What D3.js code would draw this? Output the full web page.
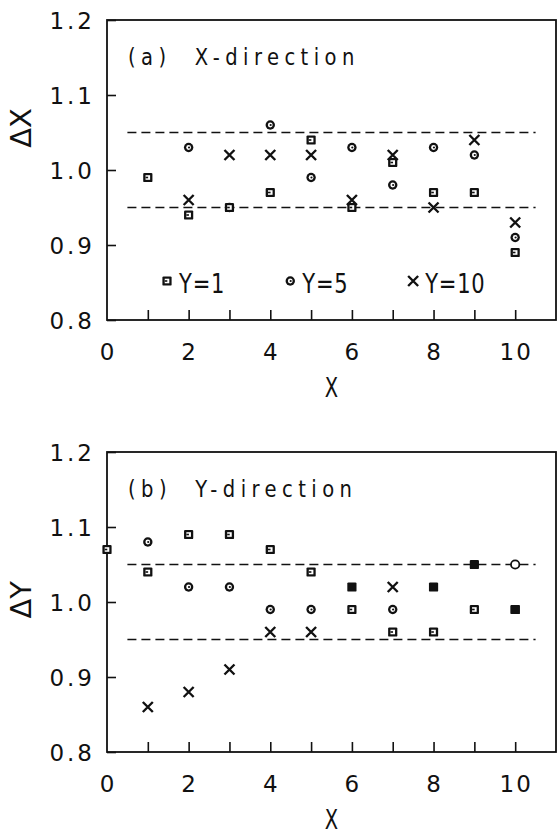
<!DOCTYPE html>
<html>
<head>
<meta charset="utf-8">
<script src="https://cdn.jsdelivr.net/npm/d3@7"></script>
<style>
  body { margin: 0; background: #fff; }
  svg text { font-family: "DejaVu Sans", sans-serif; fill: #111; }
</style>
</head>
<body>
<div id="chart"></div>
<script>
// x positions
var xs = [0, 1, 2, 3, 4, 5, 6, 7, 8, 9, 10];

// panel (a) X-direction
var a_y1  = [null, 0.99, 0.94, 0.95, 0.97, 1.04, 0.95, 1.01, 0.97, 0.97, 0.89];
var a_y5  = [null, null, 1.03, 0.95, 1.06, 0.99, 1.03, 0.98, 1.03, 1.02, 0.91];
var a_y10 = [null, null, 0.96, 1.02, 1.02, 1.02, 0.96, 1.02, 0.95, 1.04, 0.93];

// panel (b) Y-direction
var b_y1  = [1.07, 1.04, 1.09, 1.09, 1.07, 1.04, 0.99, 0.96, 0.96, 0.99, 0.99];
var b_y5  = [null, 1.08, 1.02, 1.02, 0.99, 0.99, null, 0.99, null, null, null];
var b_y10 = [null, 0.86, 0.88, 0.91, 0.96, 0.96, null, 1.02, null, null, null];
var b_filled = [null, null, null, null, null, null, 1.02, null, 1.02, 1.05, 0.99];
var b_open   = [null, null, null, null, null, null, null, null, null, null, 1.05];

var yTicks = [0.8, 0.9, 1.0, 1.1, 1.2];
var xTicks = [1, 2, 3, 4, 5, 6, 7, 8, 9, 10];
var xLabels = [0, 2, 4, 6, 8, 10];
var bandLines = [0.95, 1.05];

var W = 558, H = 839;
var left = 107, pw = 449, ph = 300;

var svg = d3.select("#chart").append("svg")
    .attr("width", W).attr("height", H);

var x = d3.scaleLinear().domain([0, 11]).range([0, pw]);
var y = d3.scaleLinear().domain([0.8, 1.2]).range([ph, 0]);

function pts(vals) {
    return xs.map(function(d, i) { return { x: d, v: vals[i] }; })
             .filter(function(d) { return d.v != null; });
}

// narrow text: placed at (tx,ty) and squeezed horizontally
function narrowText(g, tx, ty, sx, txt) {
    return g.append("g").attr("transform", "translate(" + tx + "," + ty + ") scale(" + sx + ",1)")
        .append("text").text(txt);
}

// markers
function place(d) { return "translate(" + x(d.x) + "," + y(d.v) + ")"; }

function drawSquare(g, data, filled) {
    var s = g.selectAll(null).data(data).enter().append("g").attr("transform", place);
    s.append("rect")
        .attr("x", -4.6).attr("y", -4.6).attr("width", 9.2).attr("height", 9.2).attr("rx", 1.2)
        .attr("fill", "#111");
    if (!filled) {
        s.append("rect").attr("x", -2.3).attr("y", -2.3).attr("width", 4.6).attr("height", 4.6)
            .attr("fill", "#fff");
        s.append("rect").attr("x", -2.3).attr("y", -0.8).attr("width", 2.6).attr("height", 1.6)
            .attr("fill", "#111");
    }
}
function drawCircle(g, data, dot) {
    var s = g.selectAll(null).data(data).enter().append("g").attr("transform", place);
    if (dot) {
        s.append("circle").attr("r", 4.7).attr("fill", "#111");
        s.append("circle").attr("r", 2.4).attr("fill", "#fff");
        s.append("circle").attr("r", 1.1).attr("cx", 0.4).attr("fill", "#111");
    } else {
        s.append("circle").attr("r", 4.2)
            .attr("fill", "#fff").attr("stroke", "#111").attr("stroke-width", 1.8);
    }
}
function drawCross(g, data) {
    g.selectAll(null).data(data).enter().append("path")
        .attr("transform", place)
        .attr("d", "M-5,-5L5,5M-5,5L5,-5")
        .attr("stroke", "#111").attr("stroke-width", 2.4).attr("fill", "none");
}

function panel(top, title, ylab, ylabAt) {
    var g = svg.append("g").attr("transform", "translate(" + left + "," + top + ")");

    // frame
    g.append("rect").attr("width", pw).attr("height", ph)
        .attr("fill", "none").attr("stroke", "#111").attr("stroke-width", 1.8);

    // y ticks (inward) and labels
    var yAxis = g.append("g").call(d3.axisLeft(y).tickValues(yTicks)
        .tickSize(-9).tickPadding(12).tickFormat(d3.format(".1f")));
    yAxis.select(".domain").remove();
    yAxis.selectAll("line").attr("stroke", "#111").attr("stroke-width", 1.6);
    yAxis.selectAll("text").attr("font-size", 23).attr("letter-spacing", 3)
        .attr("fill", "#111").attr("dy", "0.36em")
        .style("font-family", '"DejaVu Sans", sans-serif');

    // x ticks (inward) every unit
    var xAxis = g.append("g").attr("transform", "translate(0," + ph + ")")
        .call(d3.axisBottom(x).tickValues(xTicks).tickSize(-10).tickFormat(""));
    xAxis.select(".domain").remove();
    xAxis.selectAll("line").attr("stroke", "#111").attr("stroke-width", 1.6);

    // x labels at even values
    g.selectAll(null).data(xLabels).enter().append("text")
        .attr("x", function(d) { return x(d) + 1; }).attr("y", ph + 40)
        .attr("text-anchor", "middle").attr("font-size", 23).attr("letter-spacing", 2)
        .text(function(d) { return d; });

    narrowText(g, x(5.5), ph + 77, 0.75, "X")
        .attr("text-anchor", "middle").attr("font-size", 26);

    g.append("text")
        .attr("transform", "translate(-86," + y(ylabAt) + ") rotate(-90)")
        .attr("y", 10).attr("text-anchor", "middle").attr("font-size", 29)
        .text(ylab);

    // title
    narrowText(g, 21, 45, 0.85, title)
        .attr("font-size", 23).attr("letter-spacing", 6.4)
        .attr("xml:space", "preserve");

    // dashed reference lines
    g.selectAll(null).data(bandLines).enter().append("line")
        .attr("x1", x(0.5)).attr("x2", x(10.5))
        .attr("y1", function(d) { return y(d); }).attr("y2", function(d) { return y(d); })
        .attr("stroke", "#111").attr("stroke-width", 1.6).attr("stroke-dasharray", "9,5");

    return g;
}

// panel (a)
var ga = panel(20, "(a)  X-direction", "\u0394X", 1.056);
drawCircle(ga, pts(a_y5), true);
drawCross(ga, pts(a_y10));
drawSquare(ga, pts(a_y1), false);

// legend in panel (a)
var legendItems = [
    { label: "Y=1", kind: "square", at: 1.47 },
    { label: "Y=5", kind: "circle", at: 4.49 },
    { label: "Y=10", kind: "cross", at: 7.5 }
];
var legY = 0.852;
legendItems.forEach(function(it) {
    var d = [{ x: it.at, v: legY }];
    if (it.kind == "square") drawSquare(ga, d, false);
    if (it.kind == "circle") drawCircle(ga, d, true);
    if (it.kind == "cross") drawCross(ga, d);
    narrowText(ga, x(it.at) + 12, y(legY) + 12, 0.78, it.label)
        .attr("font-size", 27).attr("letter-spacing", 1);
});

// panel (b)
var gb = panel(452, "(b)  Y-direction", "\u0394Y", 1.003);
drawCircle(gb, pts(b_y5), true);
drawCircle(gb, pts(b_open), false);
drawCross(gb, pts(b_y10));
drawSquare(gb, pts(b_y1), false);
drawSquare(gb, pts(b_filled), true);
</script>
</body>
</html>
